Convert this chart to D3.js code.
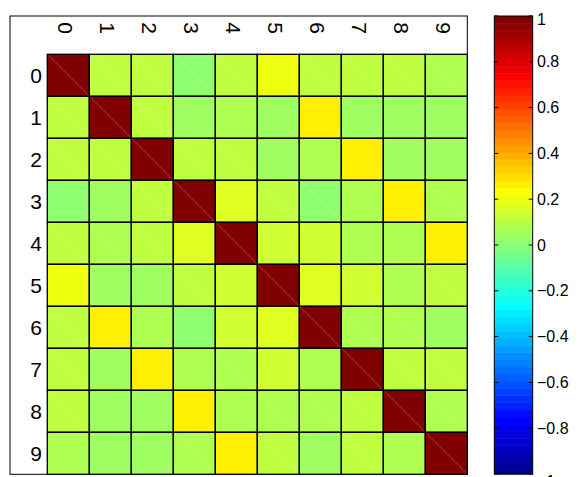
<!DOCTYPE html>
<html>
<head>
<meta charset="utf-8">
<script src="https://cdn.jsdelivr.net/npm/d3@7"></script>
<style>
  html, body { margin: 0; padding: 0; background: #fff; }
  svg { display: block; }
  text { font-family: "Liberation Sans", Arial, Helvetica, sans-serif; fill: #000; }
</style>
</head>
<body>
<svg id="chart" width="579" height="477"></svg>
<script>
// ---- data ----
const categories = ["0","1","2","3","4","5","6","7","8","9"];
const row0 = [1.00, 0.11, 0.11, 0.02, 0.11, 0.20, 0.11, 0.11, 0.11, 0.07];
const row1 = [0.11, 1.00, 0.11, 0.05, 0.08, 0.05, 0.27, 0.06, 0.05, 0.05];
const row2 = [0.11, 0.11, 1.00, 0.11, 0.11, 0.05, 0.08, 0.27, 0.05, 0.05];
const row3 = [0.02, 0.05, 0.11, 1.00, 0.18, 0.11, 0.02, 0.08, 0.27, 0.08];
const row4 = [0.11, 0.08, 0.11, 0.18, 1.00, 0.14, 0.14, 0.08, 0.08, 0.27];
const row5 = [0.20, 0.05, 0.05, 0.11, 0.14, 1.00, 0.18, 0.14, 0.08, 0.11];
const row6 = [0.11, 0.27, 0.08, 0.02, 0.14, 0.18, 1.00, 0.08, 0.08, 0.05];
const row7 = [0.11, 0.06, 0.27, 0.08, 0.08, 0.14, 0.08, 1.00, 0.11, 0.11];
const row8 = [0.11, 0.05, 0.05, 0.27, 0.08, 0.08, 0.08, 0.11, 1.00, 0.08];
const row9 = [0.07, 0.05, 0.05, 0.08, 0.27, 0.11, 0.05, 0.11, 0.08, 1.00];
const matrix = [row0,row1,row2,row3,row4,row5,row6,row7,row8,row9];
const colorbarTicks = [-1,-0.8,-0.6,-0.4,-0.2,0,0.2,0.4,0.6,0.8,1];
const colorDomain = [-1, 1];

// ---- MATLAB jet(64) ----
function jet(m) {
  const n = Math.ceil(m / 4);
  const u = [];
  for (let i = 1; i <= n; i++) u.push(i / n);
  for (let i = 1; i <= n - 1; i++) u.push(1);
  for (let i = n; i >= 1; i--) u.push(i / n);
  const off = Math.ceil(n / 2) - (m % 4 === 1 ? 1 : 0);
  const g = u.map((_, i) => off + i + 1);
  const r = g.map(v => v + n).filter(v => v <= m);
  const b = g.map(v => v - n).filter(v => v >= 1);
  const gg = g.filter(v => v <= m);
  const J = Array.from({length: m}, () => [0,0,0]);
  r.forEach((idx, i) => J[idx-1][0] = u[i]);
  gg.forEach((idx, i) => J[idx-1][1] = u[i]);
  b.forEach((idx, i) => J[idx-1][2] = u[u.length - b.length + i]);
  return J.map(c => d3.rgb(Math.round(c[0]*255), Math.round(c[1]*255), Math.round(c[2]*255)).formatHex());
}
const jetColors = jet(64);
const color = d3.scaleQuantize().domain(colorDomain).range(jetColors);

// ---- layout ----
const svg = d3.select("#chart");
const box = {x0: 10, y0: 16, x1: 467.3, y1: 474.3};
const x = d3.scaleBand().domain(categories).range([47.3, 467.3]);
const y = d3.scaleBand().domain(categories).range([54.3, 474.3]);

const cells = [];
matrix.forEach((row, i) => row.forEach((v, j) => cells.push({r: categories[i], c: categories[j], v})));

// axes box
svg.append("rect")
  .attr("x", box.x0).attr("y", box.y0)
  .attr("width", box.x1 - box.x0).attr("height", box.y1 - box.y0)
  .attr("fill", "#fff").attr("stroke", "#000").attr("stroke-width", 1);

const g = svg.append("g");
g.selectAll("rect.cell").data(cells).join("rect")
  .attr("class", "cell")
  .attr("x", d => x(d.c)).attr("y", d => y(d.r))
  .attr("width", x.bandwidth()).attr("height", y.bandwidth())
  .attr("fill", d => color(d.v))
  .attr("stroke", "#000").attr("stroke-width", 1);

// faint triangle seam
g.selectAll("line.seam").data(cells).join("line")
  .attr("class", "seam")
  .attr("x1", d => x(d.c) + 1).attr("y1", d => y(d.r) + 1)
  .attr("x2", d => x(d.c) + x.bandwidth() - 1).attr("y2", d => y(d.r) + y.bandwidth() - 1)
  .attr("stroke", "#fff").attr("stroke-opacity", 0.28).attr("stroke-width", 0.8);

// re-stroke grid over seams
g.selectAll("rect.outline").data(cells).join("rect")
  .attr("class", "outline")
  .attr("x", d => x(d.c)).attr("y", d => y(d.r))
  .attr("width", x.bandwidth()).attr("height", y.bandwidth())
  .attr("fill", "none").attr("stroke", "#000").attr("stroke-width", 1);

// top labels (rotated)
svg.selectAll("text.xl").data(categories).join("text")
  .attr("class", "xl")
  .attr("transform", d => `translate(${x(d) + x.bandwidth()/2 - 3},28) rotate(90)`)
  .attr("text-anchor", "middle").attr("dy", "0.35em")
  .style("font-size", "21px")
  .text(d => d);

// row labels
svg.selectAll("text.yl").data(categories).join("text")
  .attr("class", "yl")
  .attr("x", 42).attr("y", d => y(d) + y.bandwidth()/2)
  .attr("text-anchor", "end").attr("dy", "0.36em")
  .style("font-size", "21px")
  .text(d => d);

// ---- colorbar ----
const cb = {x0: 494.3, x1: 532.7, y0: 16, y1: 474};
const cy = d3.scaleLinear().domain(colorDomain).range([cb.y1, cb.y0]);
const step = (colorDomain[1] - colorDomain[0]) / jetColors.length;
svg.append("g").selectAll("rect").data(jetColors).join("rect")
  .attr("x", cb.x0).attr("width", cb.x1 - cb.x0)
  .attr("y", (c, i) => cy(colorDomain[0] + (i + 1) * step))
  .attr("height", (c, i) => cy(colorDomain[0] + i * step) - cy(colorDomain[0] + (i + 1) * step) + 0.5)
  .attr("fill", c => c);
svg.append("rect")
  .attr("x", cb.x0).attr("y", cb.y0)
  .attr("width", cb.x1 - cb.x0).attr("height", cb.y1 - cb.y0)
  .attr("fill", "none").attr("stroke", "#000").attr("stroke-width", 1);

const tg = svg.append("g");
tg.selectAll("line.tl").data(colorbarTicks).join("line")
  .attr("x1", cb.x0).attr("x2", cb.x0 + 4)
  .attr("y1", d => cy(d)).attr("y2", d => cy(d))
  .attr("stroke", "#000").attr("stroke-width", 1);
tg.selectAll("line.tr").data(colorbarTicks).join("line")
  .attr("x1", cb.x1 - 4).attr("x2", cb.x1)
  .attr("y1", d => cy(d)).attr("y2", d => cy(d))
  .attr("stroke", "#000").attr("stroke-width", 1);
const fmt = v => (v < 0 ? "\u2212" : "") + d3.format("")(Math.abs(+v.toFixed(1)));
tg.selectAll("text").data(colorbarTicks).join("text")
  .attr("x", 537).attr("y", d => cy(d))
  .attr("dy", d => d === 1 ? "0.55em" : (d === -1 ? "0.8em" : "0.35em"))
  .style("font-size", "16px")
  .text(fmt);
</script>
</body>
</html>
